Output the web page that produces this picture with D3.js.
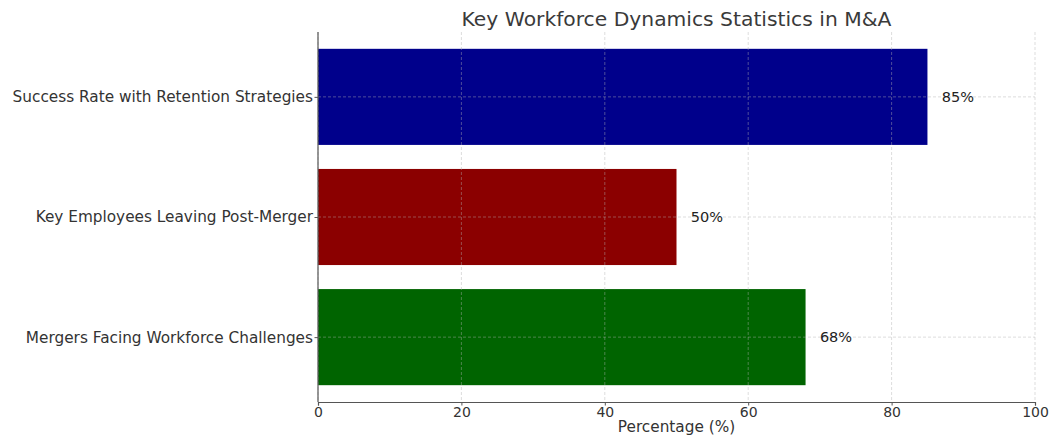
<!DOCTYPE html>
<html>
<head>
<meta charset="utf-8">
<script src="https://cdn.jsdelivr.net/npm/d3@7"></script>
<style>
  body { margin: 0; background: #fff; }
  svg text { font-family: "DejaVu Sans", sans-serif; }
</style>
</head>
<body>
<svg id="chart" width="1050" height="437"></svg>
<script>
// Workforce statistics, listed bottom to top
const categories = [
  "Mergers Facing Workforce Challenges",
  "Key Employees Leaving Post-Merger",
  "Success Rate with Retention Strategies"
];
const values = [68, 50, 85];
const barColors = ["#006400", "#8B0000", "#00008B"];
const xTicks = [0, 20, 40, 60, 80, 100];

(function () {
const svg = d3.select("#chart");
const plotLeft = 318, plotRight = 1035, plotTop = 32, plotBottom = 402;

const x = d3.scaleLinear().domain([0, 100]).range([plotLeft, plotRight]);
// Category positions 0..n-1 with bar height 0.8 and 5% padding
const y = d3.scaleLinear().domain([-0.54, categories.length - 1 + 0.54]).range([plotBottom, plotTop]);
const barH = Math.abs(y(0.4) - y(-0.4));

// Bars
svg.selectAll("rect.bar")
  .data(values)
  .join("rect")
  .attr("class", "bar")
  .attr("x", x(0))
  .attr("y", (d, i) => y(i + 0.4))
  .attr("width", d => x(d) - x(0))
  .attr("height", barH)
  .attr("fill", (d, i) => barColors[i]);

// Grid lines (drawn over bars, semi-transparent)
const grid = svg.append("g").attr("stroke", "#b0b0b0").attr("stroke-opacity", 0.55)
  .attr("stroke-dasharray", "3,2").attr("stroke-width", 0.8);
grid.selectAll("line.vx").data(xTicks).join("line")
  .attr("x1", d => x(d)).attr("x2", d => x(d))
  .attr("y1", plotTop).attr("y2", plotBottom);
grid.selectAll("line.hy").data(categories).join("line")
  .attr("x1", plotLeft).attr("x2", plotRight)
  .attr("y1", (d, i) => y(i)).attr("y2", (d, i) => y(i));

// X axis
const xAxis = svg.append("g")
  .attr("transform", `translate(0,${plotBottom})`)
  .call(d3.axisBottom(x).tickValues(xTicks).tickSize(3.5).tickPadding(2));
xAxis.select(".domain").attr("stroke", "#555").attr("stroke-width", 1.2);
xAxis.selectAll(".tick line").attr("stroke", "#555");
xAxis.selectAll(".tick text").attr("fill", "#333").attr("font-size", 14);

// Y axis
const yAxis = svg.append("g")
  .attr("transform", `translate(${plotLeft},0)`)
  .call(d3.axisLeft(y).tickValues(d3.range(categories.length))
    .tickFormat(i => categories[i]).tickSize(3.5).tickPadding(1.5));
yAxis.select(".domain").attr("stroke", "#555").attr("stroke-width", 1.2)
  .attr("d", `M0,${plotBottom}V${plotTop}`);
yAxis.selectAll(".tick line").attr("stroke", "#555");
yAxis.selectAll(".tick text").attr("fill", "#333").attr("font-size", 15.3);

// Value labels
svg.selectAll("text.val")
  .data(values)
  .join("text")
  .attr("class", "val")
  .attr("x", d => x(d + 2))
  .attr("y", (d, i) => y(i))
  .attr("dy", "0.35em")
  .attr("fill", "#222")
  .attr("font-size", 14.5)
  .text(d => d + "%");

// Title
svg.append("text")
  .attr("x", (plotLeft + plotRight) / 2).attr("y", 26)
  .attr("text-anchor", "middle")
  .attr("fill", "#3a3a3a").attr("font-size", 20.3)
  .text("Key Workforce Dynamics Statistics in M&A");

// X label
svg.append("text")
  .attr("x", (plotLeft + plotRight) / 2).attr("y", 432)
  .attr("text-anchor", "middle")
  .attr("fill", "#333").attr("font-size", 15.3)
  .text("Percentage (%)");
})();
</script>
</body>
</html>
